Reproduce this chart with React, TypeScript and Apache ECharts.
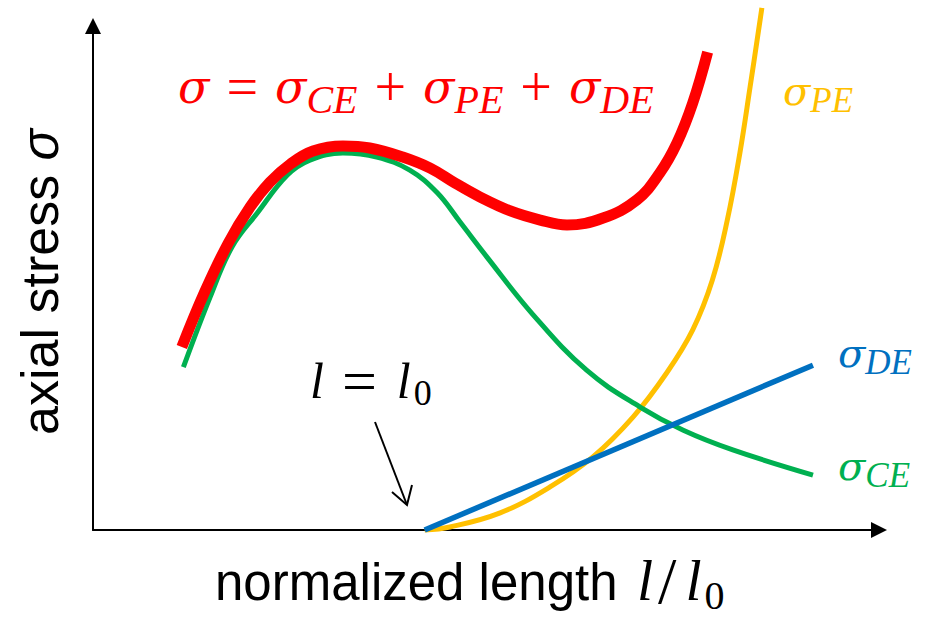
import React, { useEffect, useRef } from "react";
import * as echarts from "echarts";

// l = l0 position on the normalized-length axis (arbitrary 0-100 units)
const L0 = 42.2;

// sigma_total (red, thick)
const totalX = [11.3, 14.2, 17.2, 20.0, 22.5, 25.1, 28.0, 31.8, 35.2, 39.4, 42.9, 46.1, 49.2, 53.1, 56.9, 60.3, 64.9, 69.2, 72.1, 74.3, 76.3, 78.2];
const totalY = [36.3, 47.2, 56.9, 64.1, 69.0, 72.6, 75.2, 76.2, 75.8, 74.0, 71.8, 68.8, 66.1, 63.3, 61.5, 60.5, 61.9, 65.5, 70.8, 76.8, 84.7, 94.8];

// sigma_CE (green)
const ceX = [11.5, 14.9, 17.7, 20.9, 24.7, 27.6, 31.8, 36.1, 40.3, 43.8, 46.7, 50.1, 56.0, 62.8, 69.6, 75.1, 81.4, 91.6];
const ceY = [32.3, 46.2, 56.2, 62.9, 70.4, 73.4, 74.8, 74.0, 71.4, 66.9, 61.1, 54.2, 42.7, 31.7, 24.4, 19.8, 15.9, 10.9];

// sigma_PE (yellow)
const peX = [L0, 45.4, 51.8, 58.1, 63.6, 68.7, 73.0, 76.3, 78.8, 80.7, 82.3, 83.6, 85.1];
const peY = [0, 0.6, 3.4, 8.5, 14.5, 22.4, 31.2, 39.7, 49.6, 61.5, 74.8, 87.9, 103.6];

// sigma_DE (blue, linear)
const deX = [L0, 91.6];
const deY = [0, 32.7];

const zip = (xs: number[], ys: number[]) => xs.map((x, i) => [x, ys[i]]);

const SERIF = "Liberation Serif";
const GREEK = "DejaVu Serif";
const SANS = "Liberation Sans";

// rich styles: g = italic sigma, m = italic latin, o = operator, s = italic subscript, u = upright subscript
function mathRich(
  color: string,
  opts: { g?: number; m?: number; sub: number; lh: number; subLh: number; op?: number; opPad?: number[]; subPad?: number[] }
) {
  return {
    g: { fontFamily: GREEK, fontStyle: "italic", fontSize: opts.g || 40, lineHeight: opts.lh, fill: color },
    m: { fontFamily: SERIF, fontStyle: "italic", fontSize: opts.m || 50, lineHeight: opts.lh, fill: color },
    o: { fontFamily: SERIF, fontSize: opts.op || 50, lineHeight: opts.lh, fill: color, padding: opts.opPad || [0, 0, 0, 0] },
    s: { fontFamily: SERIF, fontStyle: "italic", fontSize: opts.sub, lineHeight: opts.subLh, verticalAlign: "bottom", fill: color, padding: opts.subPad || [0, 0, 0, 0] },
    u: { fontFamily: SERIF, fontSize: opts.sub, lineHeight: opts.subLh, verticalAlign: "bottom", fill: color, padding: opts.subPad || [0, 0, 0, 0] },
  };
}

export default function App() {
  const ref = useRef<HTMLDivElement>(null);
  useEffect(() => {
    if (!ref.current) return;
    const chart = echarts.init(ref.current, undefined, { renderer: "svg" });
    const axisCommon = {
      type: "value" as const,
      min: 0,
      max: 100,
      axisLine: {
        show: true,
        lineStyle: { color: "#000", width: 2 },
        symbol: ["none", "triangle"],
        symbolSize: [16, 16],
      },
      axisTick: { show: false },
      axisLabel: { show: false },
      splitLine: { show: false },
    };
    chart.setOption({
      animation: false,
      backgroundColor: "#fff",
      grid: { left: 93, right: 55, top: 26, bottom: 87 },
      xAxis: axisCommon,
      yAxis: axisCommon,
      series: [
        {
          name: "σPE",
          type: "line",
          data: zip(peX, peY),
          smooth: 0.4,
          showSymbol: false,
          clip: false,
          lineStyle: { color: "#FFC000", width: 5 },
          z: 2,
        },
        {
          name: "σCE",
          type: "line",
          data: zip(ceX, ceY),
          smooth: 0.4,
          showSymbol: false,
          clip: false,
          lineStyle: { color: "#00B050", width: 5 },
          z: 3,
        },
        {
          name: "σDE",
          type: "line",
          data: zip(deX, deY),
          showSymbol: false,
          clip: false,
          lineStyle: { color: "#0070C0", width: 5.5 },
          z: 4,
        },
        {
          name: "σ",
          type: "line",
          data: zip(totalX, totalY),
          smooth: 0.4,
          showSymbol: false,
          clip: false,
          lineStyle: { color: "#FF0000", width: 11 },
          z: 5,
        },
      ],
      graphic: [
        {
          type: "text",
          x: 178,
          y: 55,
          style: {
            text: "{g|σ}{o|=}{g|σ}{s|CE}{o|+}{g|σ}{s|PE}{o|+}{g|σ}{s|DE}",
            rich: mathRich("#FF0000", { g: 46, sub: 40, lh: 64, subLh: 35, op: 56, opPad: [0, 17, 0, 17] }),
            verticalAlign: "top",
          },
        },
        {
          type: "text",
          x: 783,
          y: 64,
          style: {
            text: "{g|σ}{s|PE}",
            rich: mathRich("#FFC000", { g: 40, sub: 35, lh: 54, subLh: 26 }),
            verticalAlign: "top",
          },
        },
        {
          type: "text",
          x: 838,
          y: 326,
          style: {
            text: "{g|σ}{s|DE}",
            rich: mathRich("#0070C0", { g: 40, sub: 35, lh: 54, subLh: 27 }),
            verticalAlign: "top",
          },
        },
        {
          type: "text",
          x: 838,
          y: 439,
          style: {
            text: "{g|σ}{s|CE}",
            rich: mathRich("#00B050", { g: 40, sub: 35, lh: 54, subLh: 27 }),
            verticalAlign: "top",
          },
        },
        {
          type: "text",
          x: 310,
          y: 351,
          style: {
            text: "{m|l}{o|=}{m|l}{u|0}",
            rich: mathRich("#000", { m: 50, sub: 36, lh: 60, subLh: 29, op: 62, opPad: [0, 20, 0, 18], subPad: [0, 0, 0, 3] }),
            verticalAlign: "top",
          },
        },
        {
          type: "line",
          shape: { x1: 375, y1: 422, x2: 407, y2: 505 },
          style: { stroke: "#000", lineWidth: 2 },
        },
        {
          type: "polyline",
          shape: { points: [[392, 492], [407, 505], [412, 485]] },
          style: { stroke: "#000", lineWidth: 2, fill: null },
        },
        {
          type: "text",
          x: 215,
          y: 582,
          style: {
            text: "normalized length",
            fontFamily: SANS,
            fontSize: 51,
            fill: "#000",
            verticalAlign: "middle",
          },
        },
        {
          type: "text",
          x: 637,
          y: 545,
          style: {
            text: "{m|l}{o|/}{m|l}{u|0}",
            rich: mathRich("#000", { m: 58, sub: 40, lh: 70, subLh: 38, op: 66, opPad: [0, 9, 0, 5], subPad: [0, 0, 0, 3] }),
            verticalAlign: "top",
          },
        },
        {
          type: "text",
          x: 40,
          y: 282,
          rotation: Math.PI / 2,
          style: {
            text: "{t|axial stress }{g|σ}",
            rich: {
              t: { fontFamily: SANS, fontSize: 52, fill: "#000" },
              g: { fontFamily: SANS, fontStyle: "italic", fontSize: 52, fill: "#000" },
            },
            align: "center",
            verticalAlign: "middle",
          },
        },
      ],
    });
    return () => chart.dispose();
  }, []);
  return (
    <div
      ref={ref}
      style={{ position: "fixed", left: 0, top: 0, width: 934, height: 617, background: "#fff" }}
    />
  );
}
